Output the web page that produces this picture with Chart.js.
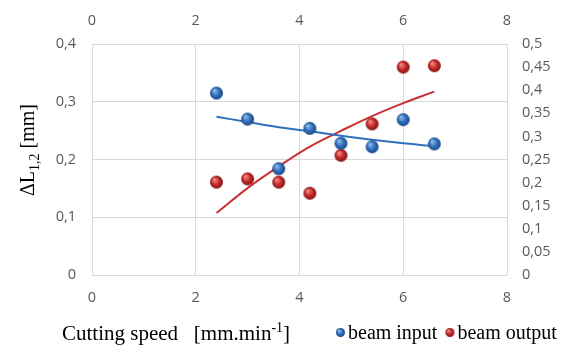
<!DOCTYPE html>
<html>
<head>
<meta charset="utf-8">
<script src="https://cdn.jsdelivr.net/npm/chart.js@4.4.1/dist/chart.umd.min.js"></script>
<style>
  html, body { margin: 0; padding: 0; background: #fff; }
  #wrap { width: 562px; height: 347px; }
</style>
</head>
<body>
<div id="wrap"><canvas id="chart" width="562" height="347"></canvas></div>
<script>
// Data
const speed = [2.4, 3.0, 3.6, 4.2, 4.8, 5.4, 6.0, 6.6];
const beamInput = [0.315, 0.270, 0.184, 0.254, 0.228, 0.222, 0.269, 0.227];
const beamOutput = [0.201, 0.208, 0.201, 0.177, 0.259, 0.327, 0.450, 0.453];
// trendlines (as drawn)
const inputTrend = [0.274, 0.265, 0.256, 0.249, 0.241, 0.234, 0.228, 0.223];
const outputTrend = [0.134, 0.188, 0.235, 0.278, 0.312, 0.344, 0.372, 0.397];
const seriesNames = ['beam input', 'beam output'];

const tickFont = { family: 'Open Sans', size: 14.5 };
const tickColor = '#595959';
const gridColor = '#d9d9d9';

// shaded ball marker
function ball(r, light, base, dark) {
  const c = document.createElement('canvas');
  c.width = c.height = r * 2 + 2;
  const g = c.getContext('2d');
  const cx = r + 1, cy = r + 1;
  const grad = g.createRadialGradient(cx - r * 0.35, cy - r * 0.4, r * 0.1, cx, cy, r);
  grad.addColorStop(0, light);
  grad.addColorStop(0.55, base);
  grad.addColorStop(1, dark);
  g.fillStyle = grad;
  g.beginPath();
  g.arc(cx, cy, r, 0, Math.PI * 2);
  g.fill();
  return c;
}
const blueBall = ball(6.5, '#8fb9e6', '#2f6fbf', '#1b4680');
const redBall = ball(6.5, '#f08a80', '#c62828', '#7f1414');
const blueSmall = ball(4.5, '#8fb9e6', '#2f6fbf', '#1b4680');
const redSmall = ball(4.5, '#f08a80', '#c62828', '#7f1414');

const pts = (ys) => speed.map((x, i) => ({ x: x, y: ys[i] }));
const fmt = (v) => String(+v.toFixed(2)).replace('.', ',');

// axis titles + legend
const extras = {
  id: 'extras',
  afterDraw(chart) {
    const c = chart.ctx;
    c.save();
    c.fillStyle = '#000';
    c.textBaseline = 'alphabetic';

    // x title
    let x = 62, y = 340;
    c.font = '21px "Liberation Serif"';
    c.textAlign = 'left';
    const t1 = 'Cutting speed   [mm.min';
    c.fillText(t1, x, y);
    x += c.measureText(t1).width;
    c.font = '14px "Liberation Serif"';
    c.fillText('-1', x, y - 8);
    x += c.measureText('-1').width;
    c.font = '21px "Liberation Serif"';
    c.fillText(']', x, y);

    // y title (rotated)
    c.translate(34, 196);
    c.rotate(-Math.PI / 2);
    let p = 0;
    c.font = '20px "Liberation Serif"';
    c.fillText('\u0394L', p, 0);
    p += c.measureText('\u0394L').width;
    c.font = '14px "Liberation Serif"';
    c.fillText('1,2', p, 5);
    p += c.measureText('1,2').width;
    c.font = '20px "Liberation Serif"';
    c.fillText(' [mm]', p, 0);
    c.setTransform(1, 0, 0, 1, 0, 0);

    // legend
    c.font = '20px "Liberation Serif"';
    let lx = 335;
    const icons = [blueSmall, redSmall];
    seriesNames.forEach((name, i) => {
      c.drawImage(icons[i], lx, 327);
      lx += icons[i].width + 2;
      c.fillText(name, lx, 339);
      lx += c.measureText(name).width + 7;
    });
    c.restore();
  }
};

new Chart(document.getElementById('chart'), {
  type: 'scatter',
  data: {
    datasets: [
      {
        label: seriesNames[0],
        data: pts(beamInput),
        yAxisID: 'y',
        pointStyle: blueBall,
        order: 1
      },
      {
        label: seriesNames[1],
        data: pts(beamOutput),
        yAxisID: 'y2',
        pointStyle: redBall,
        order: 1
      },
      {
        type: 'line',
        label: 'trend input',
        data: pts(inputTrend),
        yAxisID: 'y',
        borderColor: '#2f6fbf',
        borderWidth: 2,
        pointRadius: 0,
        tension: 0.4,
        fill: false,
        order: 2
      },
      {
        type: 'line',
        label: 'trend output',
        data: pts(outputTrend),
        yAxisID: 'y2',
        borderColor: '#c83232',
        borderWidth: 2,
        pointRadius: 0,
        tension: 0.4,
        fill: false,
        order: 2
      }
    ]
  },
  options: {
    responsive: false,
    animation: false,
    layout: { padding: 0 },
    plugins: {
      legend: { display: false },
      tooltip: { enabled: false }
    },
    scales: {
      x: {
        type: 'linear',
        position: 'bottom',
        min: 0, max: 8,
        ticks: { stepSize: 2, color: tickColor, font: tickFont, padding: 14 },
        grid: { color: gridColor, drawTicks: false },
        border: { display: false },
        afterFit: (s) => { s.height = 72; }
      },
      x2: {
        type: 'linear',
        position: 'top',
        min: 0, max: 8,
        ticks: { stepSize: 2, color: tickColor, font: tickFont, padding: 14 },
        grid: { display: false, drawTicks: false },
        border: { display: false },
        afterFit: (s) => { s.height = 44; }
      },
      y: {
        position: 'left',
        min: 0, max: 0.4,
        ticks: { stepSize: 0.1, color: tickColor, font: tickFont, padding: 16, callback: fmt },
        grid: { color: gridColor, drawTicks: false },
        border: { display: false },
        afterFit: (s) => { s.width = 92; }
      },
      y2: {
        position: 'right',
        min: 0, max: 0.5,
        ticks: { stepSize: 0.05, color: tickColor, font: tickFont, padding: 15, callback: fmt },
        grid: { display: false, drawTicks: false },
        border: { display: false },
        afterFit: (s) => { s.width = 55; }
      }
    }
  },
  plugins: [extras]
});
</script>
</body>
</html>
